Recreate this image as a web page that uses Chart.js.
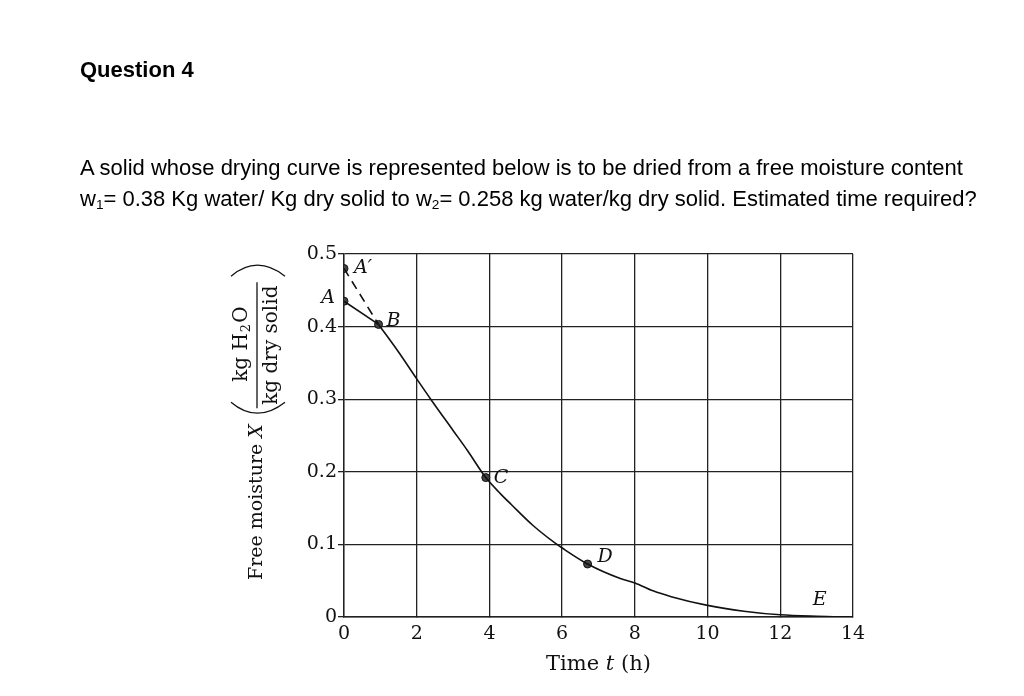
<!DOCTYPE html>
<html>
<head>
<meta charset="utf-8">
<script src="https://cdn.jsdelivr.net/npm/chart.js@4.4.1/dist/chart.umd.min.js"></script>
<style>
    body { margin: 0; background: #fff; }
    #chart { position: absolute; left: 0; top: 0; }
    .txt { position: absolute; left: 80px; font-family: "Liberation Sans", Arial, sans-serif; color: #000; white-space: nowrap; }
    #q { top: 58px; font-size: 22px; font-weight: bold; line-height: 24px; }
    #p { top: 152px; font-size: 22px; line-height: 31px; }
    sub { font-size: 0.62em; vertical-align: -0.2em; line-height: 0; }
</style>
</head>
<body>
<canvas id="chart" width="1024" height="696"></canvas>
<div class="txt" id="q">Question 4</div>
<div class="txt" id="p">A solid whose drying curve is represented below is to be dried from a free moisture content<br>w<sub>1</sub>= 0.38 Kg water/ Kg dry solid to w<sub>2</sub>= 0.258 kg water/kg dry solid. Estimated time required?</div>
<script>

const xTicks = [0, 2, 4, 6, 8, 10, 12, 14];
const yTicks = [0, 0.1, 0.2, 0.3, 0.4, 0.5];

// drying curve from B through C, D to E
const curveT = [0.95, 1.5, 2.0, 2.4, 3.0, 3.4, 3.9, 4.3, 4.6, 5.2, 5.8, 6.0, 6.7, 7.6, 8.0, 8.5, 9.0, 10.0, 11.0, 12.0, 13.0, 14.0];
const curveX = [0.403, 0.365, 0.328, 0.299, 0.257, 0.229, 0.192, 0.170, 0.155, 0.126, 0.102, 0.095, 0.073, 0.053, 0.047, 0.036, 0.028, 0.016, 0.008, 0.003, 0.001, 0.0];

// named points
const pointNames = ["A\u2032", "A", "B", "C", "D", "E"];
const pointT = [0, 0, 0.95, 3.9, 6.7, 13.0];
const pointX = [0.48, 0.435, 0.403, 0.192, 0.073, 0.001];

const serif = "'DejaVu Serif', serif";
const ink = "#222";

const toXY = (ts, xs) => ts.map((t, i) => ({ x: t, y: xs[i] }));

const labelStyle = [
    { dx: 10, dy: 0, align: "left" },
    { dx: -9, dy: -3, align: "right" },
    { dx: 8, dy: -3, align: "left" },
    { dx: 8, dy: 0, align: "left" },
    { dx: 10, dy: -7, align: "left" },
    { dx: 3, dy: -16, align: "center" }
];


// =================== Labels Plugin ===================

const drawLabels = {

    id: "drawLabels",

    afterDraw(chart) {

        const { ctx, scales } = chart;
        const xs = scales.x, ys = scales.y;

        ctx.save();
        ctx.fillStyle = "#111";
        ctx.strokeStyle = "#111";
        ctx.textBaseline = "middle";

        // point letters
        ctx.font = "italic 19px " + serif;
        pointNames.forEach((name, i) => {
            const s = labelStyle[i];
            ctx.textAlign = s.align;
            ctx.fillText(name, xs.getPixelForValue(pointT[i]) + s.dx, ys.getPixelForValue(pointX[i]) + s.dy);
        });

        // x title: Time t (h)
        ctx.textAlign = "left";
        const p1 = "Time ", p2 = "t", p3 = " (h)";
        ctx.font = "21px " + serif;
        const w1 = ctx.measureText(p1).width, w3 = ctx.measureText(p3).width;
        ctx.font = "italic 21px " + serif;
        const w2 = ctx.measureText(p2).width;
        let x0 = (xs.left + xs.right) / 2 - (w1 + w2 + w3) / 2;
        const ty = 665;
        ctx.font = "21px " + serif;
        ctx.fillText(p1, x0, ty);
        ctx.font = "italic 21px " + serif;
        ctx.fillText(p2, x0 + w1, ty);
        ctx.font = "21px " + serif;
        ctx.fillText(p3, x0 + w1 + w2, ty);

        // y title, rotated
        ctx.translate(257, 580);
        ctx.rotate(-Math.PI / 2);
        ctx.font = "19px " + serif;
        const m1 = "Free moisture ";
        const wm = ctx.measureText(m1).width;
        ctx.fillText(m1, 0, 0);
        ctx.font = "italic 19px " + serif;
        ctx.fillText("X", wm, 0);
        const end = wm + ctx.measureText("X").width;

        const f0 = end + 16, f1 = f0 + 126;
        ctx.lineWidth = 1.3;
        ctx.beginPath();
        ctx.moveTo(f0, 0);
        ctx.lineTo(f1, 0);
        ctx.stroke();

        ctx.beginPath();
        ctx.moveTo(f0 + 6, -26);
        ctx.quadraticCurveTo(f0 - 16, 0, f0 + 6, 28);
        ctx.stroke();
        ctx.beginPath();
        ctx.moveTo(f1 + 6, -26);
        ctx.quadraticCurveTo(f1 + 28, 0, f1 + 6, 28);
        ctx.stroke();

        // numerator kg H2O
        ctx.font = "20px " + serif;
        const a = "kg H", b = "2", c = "O";
        const wa = ctx.measureText(a).width, wc = ctx.measureText(c).width;
        ctx.font = "13px " + serif;
        const wb = ctx.measureText(b).width;
        let nx = (f0 + f1) / 2 - (wa + wb + wc) / 2;
        ctx.font = "20px " + serif;
        ctx.fillText(a, nx, -15);
        ctx.font = "13px " + serif;
        ctx.fillText(b, nx + wa + 1, -10);
        ctx.font = "20px " + serif;
        ctx.fillText(c, nx + wa + wb + 2, -15);

        // denominator
        ctx.textAlign = "center";
        ctx.fillText("kg dry solid", (f0 + f1) / 2, 15);

        ctx.restore();
    }
};


const ctx1 = document
    .getElementById("chart")
    .getContext("2d");

Chart.defaults.font.family = serif;
Chart.defaults.color = "#111";

new Chart(ctx1, {

    type: "scatter",

    data: {

        datasets: [{

            label: "drying curve",
            data: toXY(curveT, curveX),
            showLine: true,
            borderColor: "#111",
            borderWidth: 1.6,
            pointRadius: 0,
            cubicInterpolationMode: "monotone"

        }, {

            label: "A-B",
            data: toXY([pointT[1], pointT[2]], [pointX[1], pointX[2]]),
            showLine: true,
            borderColor: "#111",
            borderWidth: 1.6,
            pointRadius: 0

        }, {

            label: "A'-B",
            data: toXY([pointT[0], pointT[2]], [pointX[0], pointX[2]]),
            showLine: true,
            borderColor: "#111",
            borderWidth: 1.6,
            borderDash: [9, 6],
            pointRadius: 0

        }, {

            label: "points",
            data: toXY(pointT, pointX),
            showLine: false,
            pointRadius: pointNames.map(n => n === "E" ? 0 : 4),
            pointBackgroundColor: "#444",
            pointBorderColor: "#111",
            pointBorderWidth: 1

        }]
    },

    options: {

        responsive: false,
        animation: false,
        devicePixelRatio: 1,

        layout: {
            padding: { left: 294, right: 171, top: 254, bottom: 49 }
        },

        plugins: {
            legend: { display: false },
            tooltip: { enabled: false }
        },

        scales: {

            x: {
                type: "linear",
                min: 0,
                max: 14,
                afterBuildTicks: s => { s.ticks = xTicks.map(v => ({ value: v })); },
                afterFit: s => { s.height = 30; },
                grid: { color: ink, lineWidth: 1.3, tickLength: 0 },
                border: { color: ink, width: 1.4 },
                ticks: { font: { size: 19 }, padding: 6, maxRotation: 0 }
            },

            y: {
                type: "linear",
                min: 0,
                max: 0.5,
                afterBuildTicks: s => { s.ticks = yTicks.map(v => ({ value: v })); },
                afterFit: s => { s.width = 50; },
                grid: { color: ink, lineWidth: 1.3, tickLength: 6 },
                border: { color: ink, width: 1.4 },
                ticks: { font: { size: 19 }, padding: 1, callback: v => String(v) }
            }
        }
    },

    plugins: [drawLabels]

});

</script>
</body>
</html>
